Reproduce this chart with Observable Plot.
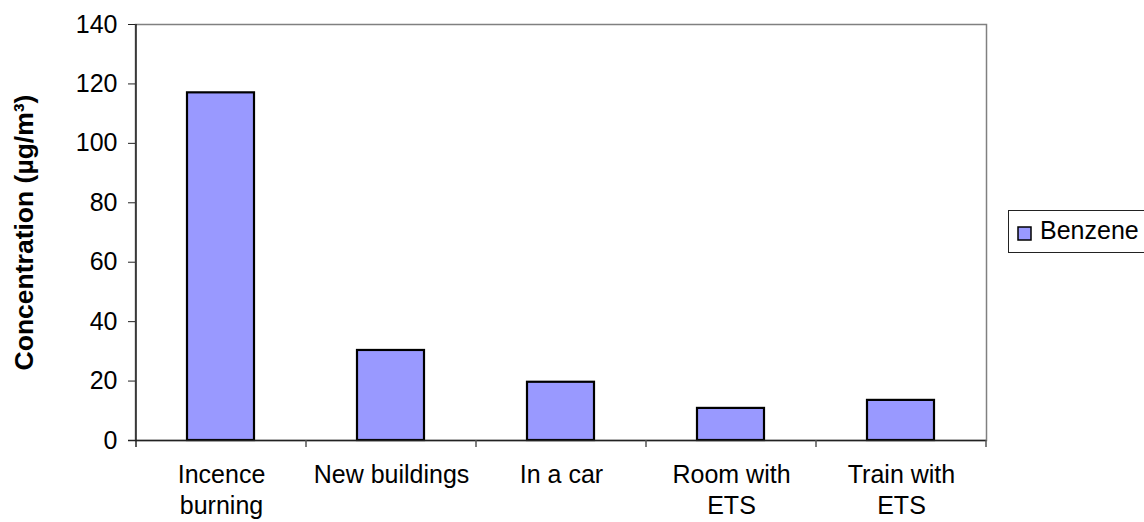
<!DOCTYPE html>
<html>
<head>
<meta charset="utf-8">
<script src="https://cdn.jsdelivr.net/npm/d3@7"></script>
<script src="https://cdn.jsdelivr.net/npm/@observablehq/plot@0.6"></script>
<style>
  html, body { margin: 0; padding: 0; background: white; }
  #chart { width: 1144px; height: 522px; overflow: hidden; }
  g[aria-label="y-axis label"] text { font-weight: bold; font-size: 26.5px; }
</style>
</head>
<body>
<div id="chart"></div>
<script>
const categories = ["Incence burning", "New buildings", "In a car", "Room with ETS", "Train with ETS"];
const tickLabels = ["Incence\nburning", "New buildings", "In a car", "Room with\nETS", "Train with\nETS"];
const benzene = [117, 30.3, 19.6, 10.8, 13.5];
const seriesName = "Benzene";
const yTicks = [0, 20, 40, 60, 80, 100, 120, 140];
const yLabel = "Concentration (µg/m³)";

const data = categories.map((c, i) => ({category: c, value: benzene[i]}));
const barFill = "#9999FF";
const font = "'Liberation Sans', Arial, sans-serif";

const chart = Plot.plot({
  width: 1144,
  height: 522,
  marginLeft: 135,
  marginRight: 158,
  marginTop: 24,
  marginBottom: 82,
  style: {fontFamily: font, fontSize: "25px", color: "black", background: "white", overflow: "visible"},
  x: {domain: categories, padding: 0},
  y: {domain: [0, 140]},
  marks: [
    Plot.frame({stroke: "#808080", strokeWidth: 1.5}),
    Plot.barY(data, {x: "category", y: "value", fill: barFill, stroke: "black", strokeWidth: 2.2, insetLeft: 51, insetRight: 52}),
    Plot.ruleY([0], {stroke: "#222", strokeWidth: 1.5, insetLeft: -7}),
    Plot.axisY({ticks: yTicks, tickSize: 7, tickPadding: 11, stroke: "#222", label: yLabel, labelAnchor: "center", labelOffset: 121, labelArrow: "none", fontSize: 25}),
    Plot.axisX({tickSize: 0, tickPadding: 20, label: null, lineHeight: 1.26, fontSize: 25,
      tickFormat: d => tickLabels[categories.indexOf(d)]})
  ]
});

document.getElementById("chart").appendChild(chart);

const svg = d3.select(chart);
const xs = chart.scale("x");
const ysc = chart.scale("y");
const y0 = ysc.apply(0);
const yTop = ysc.apply(140);
const boundaries = categories.map(c => xs.apply(c)).concat([xs.range[1]]);

// category boundary ticks below the axis
svg.append("g").selectAll("line").data(boundaries.slice(1)).join("line")
  .attr("x1", d => d).attr("x2", d => d)
  .attr("y1", y0).attr("y2", y0 + 7)
  .attr("stroke", "#555").attr("stroke-width", 1.5);

// left axis line
svg.append("line")
  .attr("x1", boundaries[0]).attr("x2", boundaries[0])
  .attr("y1", yTop).attr("y2", y0 + 7)
  .attr("stroke", "#222").attr("stroke-width", 1.5);

// legend
const lg = svg.append("g");
lg.append("rect").attr("x", 1008.5).attr("y", 210.5).attr("width", 150).attr("height", 42)
  .attr("fill", "white").attr("stroke", "#222").attr("stroke-width", 1);
lg.append("rect").attr("x", 1018).attr("y", 227).attr("width", 13).attr("height", 13)
  .attr("fill", barFill).attr("stroke", "black").attr("stroke-width", 1.5);
lg.append("text").attr("x", 1040).attr("y", 239)
  .style("text-anchor", "start").style("font-family", font).style("font-size", "25px")
  .attr("fill", "black").text(seriesName);
</script>
</body>
</html>
